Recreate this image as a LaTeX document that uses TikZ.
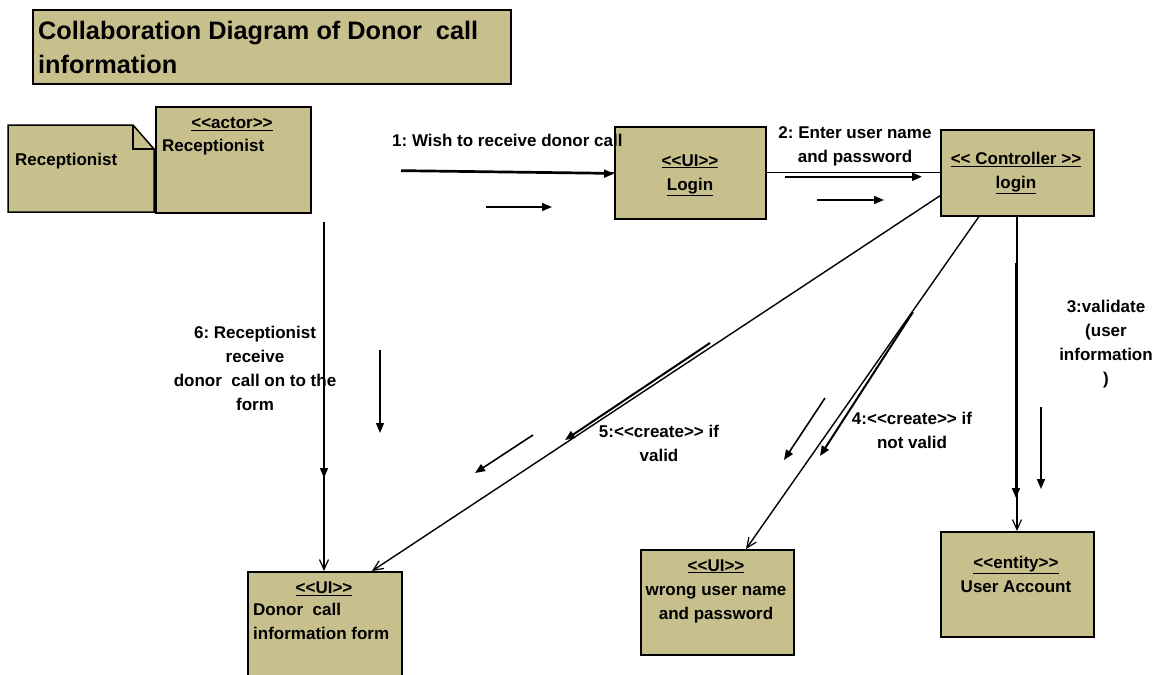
\documentclass[tikz,border=0pt]{standalone}
\usepackage{fontspec}
\setmainfont{Liberation Sans}[Ligatures=TeXOff]
\frenchspacing
\usetikzlibrary{arrows.meta,calc}
\definecolor{boxfill}{RGB}{200,192,140}
\tikzset{
  box/.style={draw=black, line width=1.5pt, fill=boxfill, inner sep=0pt},
  txt/.style={font=\bfseries\fontsize{17}{24}\selectfont, inner sep=0pt, align=center},
  conn/.style={line width=1.4pt, -{Straight Barb[length=10pt,width=9pt,line width=1.2pt]}},
  msg/.style={line width=2pt, -{Triangle[length=10pt,width=8pt]}},
}
\begin{document}
\begin{tikzpicture}[x=1pt,y=-1pt]
\useasboundingbox (0,0) rectangle (1163,675);
% title
\node[box, minimum width=478pt, minimum height=74pt, anchor=north west] (title) at (32,9) {};
\node[font=\bfseries\fontsize{25.3}{34}\selectfont, inner sep=0pt, align=left, anchor=west] (titletext) at (38,47) {Collaboration Diagram of Donor\ \ call\\information};
% note
\path[draw=black, line width=1.5pt, fill=boxfill] (8,125) -- (133,125) -- (154,149) -- (154,212) -- (8,212) -- cycle;
\draw[line width=1.5pt] (133,125) -- (133,149) -- (154,149);
\node[txt, anchor=west] (notetext) at (15,161) {Receptionist};
% actor
\node[box, minimum width=155pt, minimum height=106pt, anchor=north west] (actor) at (155,106) {};
\node[txt] (actorst) at (232,124) {\underline{<<actor>>}};
\node[txt, anchor=west] (actorname) at (162,147) {Receptionist};
% login UI
\node[box, minimum width=151pt, minimum height=92pt, anchor=north west] (login) at (614,126) {};
\node[txt] (logintext) at (690,175) {\underline{<<UI>>}\\\underline{Login}};
% controller
\node[box, minimum width=153pt, minimum height=86pt, anchor=north west] (ctrl) at (940,129) {};
\node[txt] (ctrltext) at (1016,173) {\underline{<< Controller >>}\\\underline{login}};
% donor form
\node[box, minimum width=154pt, minimum height=110pt, anchor=north west] (form) at (247,571) {};
\node[txt] (formst) at (324,589) {\underline{<<UI>>}};
\node[txt, align=left, anchor=north west] (formtext) at (253,603) {Donor\ \ call\\information form};
% wrong
\node[box, minimum width=153pt, minimum height=105pt, anchor=north west] (wrong) at (640,549) {};
\node[txt] (wrongtext) at (716,591) {\underline{<<UI>>}\\wrong user name\\and password};
% user account
\node[box, minimum width=153pt, minimum height=105pt, anchor=north west] (acct) at (940,531) {};
\node[txt] (accttext) at (1016,574) {\underline{<<entity>>}\\User Account};

% connectors
\coordinate (c1s) at (401,170);
\draw[line width=1.4pt] (c1s) -- (login.west);
\draw[msg] ($(c1s)+(0,1)$) -- ($(login.west)+(0,1)$);
\draw[line width=1.4pt] (login.east) -- (ctrl.west);
\draw[msg] ($(login.east)+(18,4)$) -- ($(ctrl.west)+(-18,4)$);
% ctrl -> form
\draw[conn] ([yshift=-23pt]ctrl.west) -- ([xshift=125pt]form.north west);
\coordinate (m5a) at (710,343); \coordinate (m5b) at (565,440);
\draw[msg] (m5a) -- (m5b);
% ctrl -> wrong
\draw[conn] ([xshift=39pt]ctrl.south west) -- ([xshift=106pt]wrong.north west);
\coordinate (m4a) at (913,312); \coordinate (m4b) at (820,456);
\draw[msg] (m4a) -- (m4b);
% ctrl -> acct
\draw[conn] ([xshift=77pt]ctrl.south west) -- ([xshift=77pt]acct.north west);
\coordinate (m3a) at (1016,263); \coordinate (m3b) at (1016,498);
\draw[msg] (m3a) -- (m3b);
% actor -> form
\coordinate (c6s) at (324,222);
\draw[conn] (c6s) -- (form.north west -| c6s);
\coordinate (m6b) at (324,478);
\draw[msg, line width=1.4pt] (c6s) -- (m6b);

% small arrows
\coordinate (s1a) at (486,207); \coordinate (s1b) at (552,207);
\draw[msg, line width=1.6pt] (s1a) -- (s1b);
\coordinate (s2a) at (817,200); \coordinate (s2b) at (884,200);
\draw[msg, line width=1.6pt] (s2a) -- (s2b);
\coordinate (s5a) at (533,435); \coordinate (s5b) at (475,473);
\draw[msg, line width=1.6pt] (s5a) -- (s5b);
\coordinate (s4a) at (825,398); \coordinate (s4b) at (784,460);
\draw[msg, line width=1.6pt] (s4a) -- (s4b);
\coordinate (s3a) at (1041,407); \coordinate (s3b) at (1041,489);
\draw[msg, line width=1.6pt] (s3a) -- (s3b);
\coordinate (s6a) at (380,350); \coordinate (s6b) at (380,433);
\draw[msg, line width=1.6pt] (s6a) -- (s6b);

% labels
\node[txt, anchor=west] (l1) at (392,140) {1: Wish to receive donor call};
\node[txt] (l2) at (855,146) {2: Enter user name\\and password};
\node[txt] (l3) at (1106,344) {3:validate\\(user\\information\\)};
\node[txt] (l4) at (912,430) {4:<<create>> if\\not valid};
\node[txt] (l5) at (659,443) {5:<<create>> if\\valid};
\node[txt] (l6) at (255,368) {6: Receptionist\\receive\\donor\ \ call on to the\\form};
\end{tikzpicture}
\end{document}
